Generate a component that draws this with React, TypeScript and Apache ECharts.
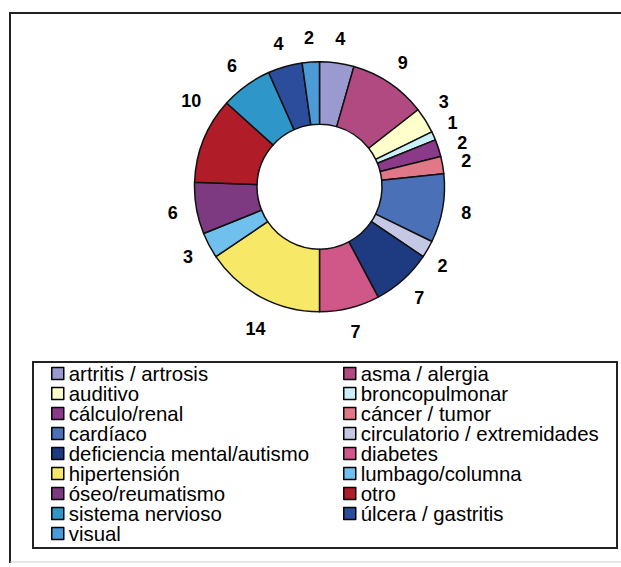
import React, { useEffect, useRef } from "react";
import * as echarts from "echarts";

const categories = [
  "artritis / artrosis",
  "asma / alergia",
  "auditivo",
  "broncopulmonar",
  "cálculo/renal",
  "cáncer / tumor",
  "cardíaco",
  "circulatorio / extremidades",
  "deficiencia mental/autismo",
  "diabetes",
  "hipertensión",
  "lumbago/columna",
  "óseo/reumatismo",
  "otro",
  "sistema nervioso",
  "úlcera / gastritis",
  "visual",
];

const values = [4, 9, 3, 1, 2, 2, 8, 2, 7, 7, 14, 3, 6, 10, 6, 4, 2];

const colors = [
  "#9a9ad0",
  "#b04a80",
  "#ffffcc",
  "#ccf0f8",
  "#8a3a88",
  "#e07888",
  "#4a70b8",
  "#c4c8e4",
  "#1e3a80",
  "#d05888",
  "#f8e868",
  "#70c0ee",
  "#7e3a80",
  "#b01c28",
  "#2e96c8",
  "#2c4c9c",
  "#4c9ad8",
];

const leftLegend = categories.filter((_, i) => i % 2 === 0);
const rightLegend = categories.filter((_, i) => i % 2 === 1);

// label nudges (pixels) for labels that the original moved off the bisector
const labelNudge: Record<string, [number, number]> = {
  otro: [10, -30],
  "hipertensión": [6, 10],
  auditivo: [-2, -6],
  broncopulmonar: [-3, -3],
  "cálculo/renal": [1, 2],
  "circulatorio / extremidades": [-6, 4],
};

export default function App() {
  const ref = useRef<HTMLDivElement>(null);
  useEffect(() => {
    document.body.style.margin = "0";
    const chart = echarts.init(ref.current!, null, { renderer: "svg" });
    const font = "'Liberation Sans', Arial, sans-serif";
    const legendCommon = {
      orient: "vertical" as const,
      top: 363.5,
      padding: 0,
      itemGap: 0,
      itemWidth: 12,
      itemHeight: 12,
      icon: "rect",
      itemStyle: { borderColor: "#000", borderWidth: 1.5 },
      textStyle: {
        fontFamily: font,
        fontSize: 20.4,
        color: "#000",
        lineHeight: 19.6,
      },
      selectedMode: false,
    };
    const center = [319.5, 187];
    chart.setOption({
      animation: false,
      backgroundColor: "#fff",
      color: colors,
      legend: [
        { ...legendCommon, left: 51, data: leftLegend },
        { ...legendCommon, left: 343, data: rightLegend },
      ],
      graphic: [
        {
          type: "polyline",
          shape: { points: [[10, 563], [10, 13], [640, 13]] },
          style: { stroke: "#222", lineWidth: 2, fill: null },
        },
        {
          type: "line",
          shape: { x1: 10, y1: 562, x2: 640, y2: 562 },
          style: { stroke: "#ccc", lineWidth: 1 },
        },
        {
          type: "rect",
          shape: { x: 33, y: 362, width: 584, height: 186 },
          style: { stroke: "#222", lineWidth: 2, fill: null },
        },
      ],
      series: [
        {
          type: "pie",
          center: [319.5, 186.7],
          radius: [62.5, 125],
          startAngle: 90,
          clockwise: true,
          itemStyle: { borderColor: "#111", borderWidth: 1.5 },
          label: { show: false },
          labelLine: { show: false },
          emphasis: { disabled: true },
          silent: true,
          data: categories.map((name, i) => ({ name, value: values[i] })),
        },
        {
          type: "pie",
          center,
          radius: [0, 292],
          startAngle: 90,
          clockwise: true,
          silent: true,
          z: 3,
          avoidLabelOverlap: false,
          labelLayout: { hideOverlap: false },
          itemStyle: { color: "rgba(0,0,0,0)", borderWidth: 0 },
          label: {
            show: true,
            position: "inside",
            formatter: "{c}",
            fontFamily: font,
            fontSize: 18,
            lineHeight: 14,
            fontWeight: "bold",
            color: "#000",
          },
          labelLine: { show: false },
          emphasis: { disabled: true },
          data: categories.map((name, i) => ({
            name,
            value: values[i],
            label: labelNudge[name] ? { offset: labelNudge[name] } : undefined,
          })),
        },
      ],
    });
    return () => chart.dispose();
  }, []);
  return <div ref={ref} style={{ width: 621, height: 567 }} />;
}
